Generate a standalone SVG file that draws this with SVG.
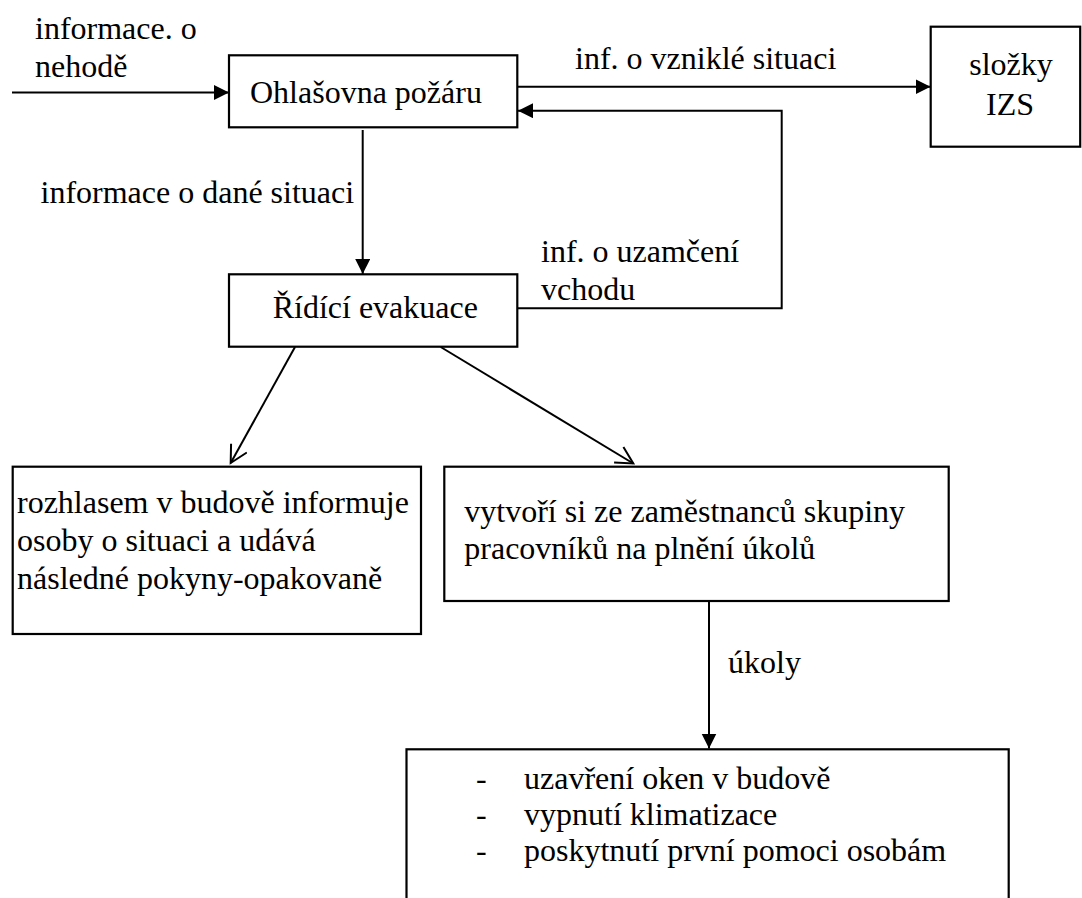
<svg xmlns="http://www.w3.org/2000/svg" width="1082" height="898" viewBox="0 0 1082 898" font-family="Liberation Serif, Tinos, Times New Roman, serif" font-size="32">
  <defs>
    <marker id="arrowFilled" markerUnits="userSpaceOnUse" markerWidth="16" markerHeight="16" refX="15" refY="7.5" orient="auto">
      <path d="M0,0 L15,7.5 L0,15 Z" fill="#000000"/>
    </marker>
    <marker id="arrowOpen" markerUnits="userSpaceOnUse" markerWidth="22" markerHeight="22" refX="18" refY="10" orient="auto">
      <path d="M1,1 L18,10 L1,19" fill="none" stroke="#000000" stroke-width="2"/>
    </marker>
  </defs>

  <rect x="0" y="0" width="1082" height="898" fill="#ffffff"/>

  <g id="connectors" fill="none" stroke="#000000" stroke-width="2">
    <line x1="12" y1="92.5" x2="229" y2="92.5" marker-end="url(#arrowFilled)"/>
    <line x1="517" y1="86.7" x2="930.5" y2="86.7" marker-end="url(#arrowFilled)"/>
    <polyline points="517.5,308.3 781.7,308.3 781.7,110.7 518,110.7" marker-end="url(#arrowFilled)"/>
    <line x1="362.7" y1="130" x2="362.7" y2="274" marker-end="url(#arrowFilled)"/>
    <line x1="295" y1="347" x2="230.7" y2="463" marker-end="url(#arrowOpen)"/>
    <line x1="440.7" y1="347" x2="633.3" y2="463.5" marker-end="url(#arrowOpen)"/>
    <line x1="709" y1="601" x2="709" y2="748.5" marker-end="url(#arrowFilled)"/>
  </g>

  <g id="labels" fill="#000000">
    <text x="35" y="39">informace. o</text>
    <text x="35" y="77">nehodě</text>
    <text x="575" y="69">inf. o vzniklé situaci</text>
    <text x="40.5" y="203">informace o dané situaci</text>
    <text x="541" y="262">inf. o uzamčení</text>
    <text x="541" y="300">vchodu</text>
    <text x="728" y="673">úkoly</text>
  </g>

  <g id="ohlasovna">
    <rect x="229" y="55.3" width="288.3" height="72" fill="#ffffff" stroke="#000000" stroke-width="2.2"/>
    <text x="250" y="102.7">Ohlašovna požáru</text>
  </g>

  <g id="izs">
    <rect x="930.7" y="26.7" width="149.5" height="120" fill="#ffffff" stroke="#000000" stroke-width="2.2"/>
    <text x="1011" y="75" text-anchor="middle">složky</text>
    <text x="1010" y="115" text-anchor="middle">IZS</text>
  </g>

  <g id="ridici">
    <rect x="229" y="274.3" width="288.3" height="72.4" fill="#ffffff" stroke="#000000" stroke-width="2.2"/>
    <text x="272.7" y="318.3">Řídící evakuace</text>
  </g>

  <g id="rozhlas">
    <rect x="12.7" y="466.7" width="408.3" height="167.3" fill="#ffffff" stroke="#000000" stroke-width="2.2"/>
    <text x="17" y="513">rozhlasem v budově informuje</text>
    <text x="17" y="551">osoby o situaci a udává</text>
    <text x="17" y="588.5">následné pokyny-opakovaně</text>
  </g>

  <g id="skupiny">
    <rect x="444.3" y="466.7" width="504.4" height="134.3" fill="#ffffff" stroke="#000000" stroke-width="2.2"/>
    <text x="464.3" y="521.7">vytvoří si ze zaměstnanců skupiny</text>
    <text x="464.3" y="559">pracovníků na plnění úkolů</text>
  </g>

  <g id="ukoly">
    <rect x="406.5" y="749.3" width="602.2" height="200" fill="#ffffff" stroke="#000000" stroke-width="2.2"/>
    <text x="476" y="789">-</text>
    <text x="524" y="789">uzavření oken v budově</text>
    <text x="476" y="825">-</text>
    <text x="524" y="825">vypnutí klimatizace</text>
    <text x="476" y="860.5">-</text>
    <text x="524" y="860.5">poskytnutí první pomoci osobám</text>
  </g>
</svg>
